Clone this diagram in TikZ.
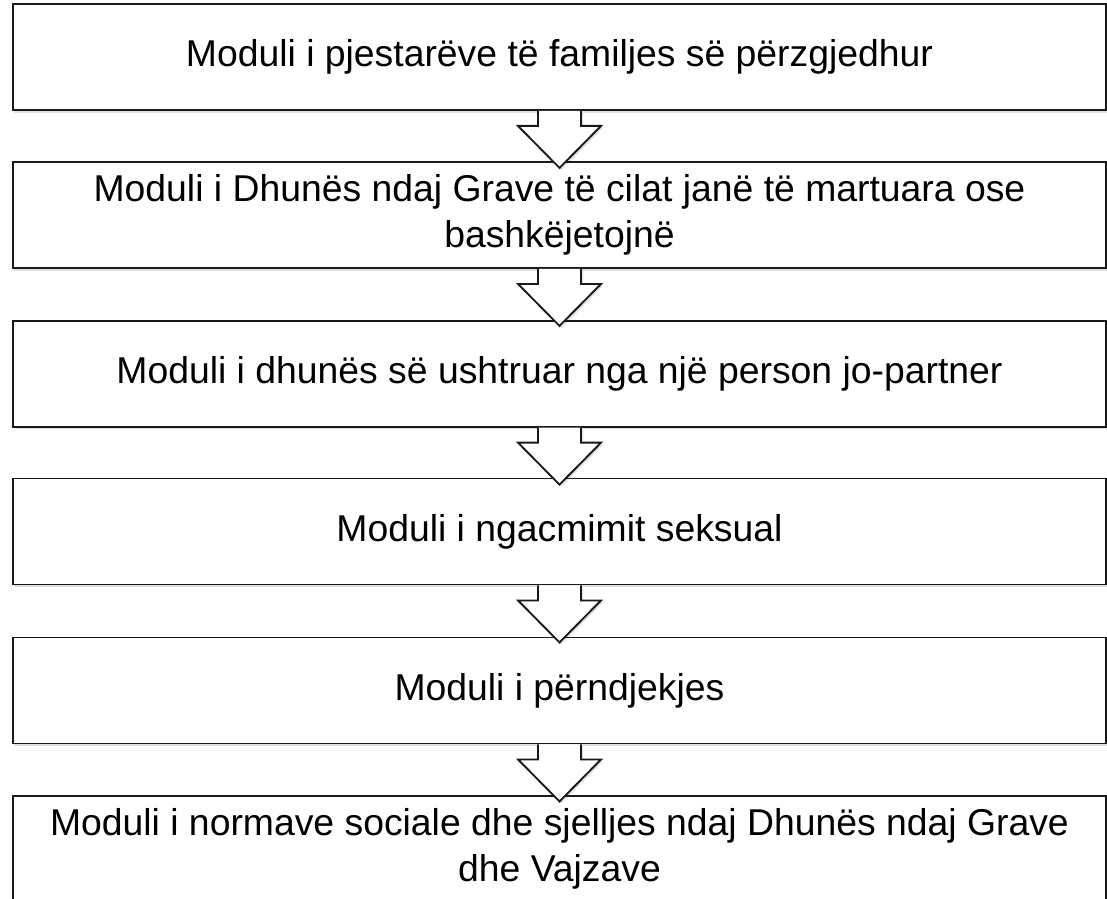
\documentclass[tikz,border=0pt]{standalone}
\usepackage{fontspec}
\setmainfont{Liberation Sans}
\usetikzlibrary{calc,shadows}
\begin{document}
\begin{tikzpicture}[x=0.75pt,y=-0.75pt,
  box/.style={draw=black!90,line width=1.4pt,fill=white,minimum width=1093*0.75pt,minimum height=106*0.75pt,
    align=center,inner sep=0pt,font=\fontsize{28pt}{34.5pt}\selectfont,
    drop shadow={opacity=0.25,shadow xshift=1pt,shadow yshift=-2pt}},
  blockarrow/.style={draw=black!90,line width=1.4pt,fill=white,line join=miter}]
\useasboundingbox (0,0) rectangle (1107,899);
\node[box] (b1) at (559.5,57) {Moduli i pjestarëve të familjes së përzgjedhur};
\node[box] (b2) at (559.5,215) {Moduli i Dhunës ndaj Grave të cilat janë të martuara ose\\bashkëjetojnë};
\node[box] (b3) at (559.5,373.7) {Moduli i dhunës së ushtruar nga një person jo-partner};
\node[box] (b4) at (559.5,531.5) {Moduli i ngacmimit seksual};
\node[box] (b5) at (559.5,690.5) {Moduli i përndjekjes};
\node[box] (b6) at (559.5,849) {Moduli i normave sociale dhe sjelljes ndaj Dhunës ndaj Grave\\dhe Vajzave};
\foreach \a/\b in {b1/b2,b2/b3,b3/b4,b4/b5,b5/b6}{
  \fill[black,opacity=0.12] ($(\a.south)+(-19,2)$) -- ++(0,15) -- ++(-20,0) -- ($(\a.south)+(2,59)$) -- ($(\a.south)+(43.5,17)$) -- ++(-20,0) -- ++(0,-15) -- cycle;
  \path[blockarrow] ($(\a.south)+(-21.5,0)$) -- ++(0,15) -- ++(-20,0) -- ($(\a.south)+(0,57)$) -- ($(\a.south)+(41.5,15)$) -- ++(-20,0) -- ++(0,-15);
}
\end{tikzpicture}
\end{document}
